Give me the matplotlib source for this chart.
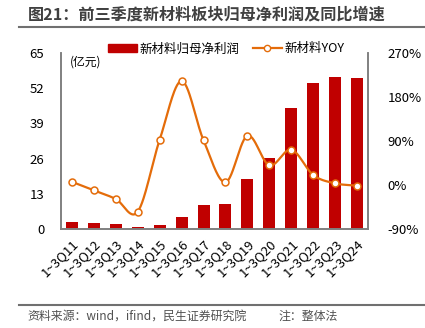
import numpy as np
import matplotlib
matplotlib.use("Agg")
import matplotlib.pyplot as plt
from matplotlib.lines import Line2D
from matplotlib.patches import Patch

plt.rcParams['font.family'] = ['Noto Sans CJK SC', 'DejaVu Sans']

categories = ["1~3Q11", "1~3Q12", "1~3Q13", "1~3Q14", "1~3Q15", "1~3Q16", "1~3Q17",
              "1~3Q18", "1~3Q19", "1~3Q20", "1~3Q21", "1~3Q22", "1~3Q23", "1~3Q24"]
profit = [2.6, 2.4, 1.7, 0.8, 1.4, 4.5, 8.7, 9.2, 18.6, 26.2, 44.8, 54.1, 56.3, 55.6]
yoy = [6.5, -11, -28.6, -54.5, 92.7, 212.7, 91.4, 5.5, 100.9, 40.2, 72.3, 20.5, 3.4, -1.4]
left_ticks = [0, 13, 26, 39, 52, 65]
right_ticks = [-90, 0, 90, 180, 270]

BAR = "#C00000"
LINE = "#E46C0A"
GRAY = "#808080"


def smooth(x, y, n=30):
    """Catmull-Rom curve through the given points."""
    x = np.asarray(x, float)
    y = np.asarray(y, float)
    px = np.concatenate([[2 * x[0] - x[1]], x, [2 * x[-1] - x[-2]]])
    py = np.concatenate([[2 * y[0] - y[1]], y, [2 * y[-1] - y[-2]]])
    xs, ys = [], []
    t = np.linspace(0, 1, n, endpoint=False)
    for i in range(1, len(px) - 2):
        for arr, out in ((px, xs), (py, ys)):
            p0, p1, p2, p3 = arr[i - 1:i + 3]
            out.append(0.5 * ((2 * p1) + (-p0 + p2) * t
                              + (2 * p0 - 5 * p1 + 4 * p2 - p3) * t ** 2
                              + (-p0 + 3 * p1 - 3 * p2 + p3) * t ** 3))
    xs.append([x[-1]])
    ys.append([y[-1]])
    return np.concatenate(xs), np.concatenate(ys)


fig = plt.figure(figsize=(4.25, 3.28), dpi=100)
ax = fig.add_axes([0.1435, 0.3018, 0.7224, 0.5366])
x = np.arange(len(categories))
ax.bar(x, profit, width=0.55, color=BAR, zorder=2)
ax.set_xlim(-0.5, len(categories) - 0.5)
ax.set_ylim(0, 65)
ax.set_yticks(left_ticks)
ax.set_xticks(x)
ax.set_xticklabels(categories, rotation=45, ha="right", va="top",
                   rotation_mode="anchor", fontsize=9, color="#000000")
ax.tick_params(axis="both", length=0, labelsize=9.5, pad=6)
ax.tick_params(axis="y", pad=12)
ax.spines["top"].set_visible(False)
for s in ("left", "right", "bottom"):
    ax.spines[s].set_color(GRAY)
    ax.spines[s].set_linewidth(1.2)

ax2 = ax.twinx()
ax2.set_ylim(-90, 270)
ax2.set_yticks(right_ticks)
ax2.set_yticklabels([f"{v}%" for v in right_ticks])
ax2.tick_params(axis="y", length=0, labelsize=9.5, pad=14)
ax2.spines["top"].set_visible(False)
for s in ("left", "right", "bottom"):
    ax2.spines[s].set_color(GRAY)
    ax2.spines[s].set_linewidth(1.2)
sx, sy = smooth(x, yoy)
ax2.plot(sx, sy, color=LINE, lw=1.6, zorder=3)
ax2.plot(x, yoy, ls="none", marker="o", ms=5, mfc="white", mec=LINE, mew=1.1, zorder=4)

ax.text(0.03, 0.985, "(亿元)", transform=ax.transAxes, fontsize=8.5, va="top", ha="left")

handles = [Patch(color=BAR),
           Line2D([0], [0], color=LINE, lw=1.6, marker="o", ms=4.5, mfc="white", mec=LINE)]
fig.legend(handles, ["新材料归母净利润", "新材料YOY"], loc="center",
           bbox_to_anchor=(0.532, 0.851), ncol=2, frameon=False, fontsize=9,
           handlelength=2.3, handleheight=0.6, columnspacing=1.1, handletextpad=0.2)

fig.text(0.065, 0.955, "图21：前三季度新材料板块归母净利润及同比增速", fontsize=11.6,
         fontweight="bold", color="#404040", va="center", ha="left")
fig.add_artist(Line2D([0.045, 1.0], [0.918, 0.918], transform=fig.transFigure,
                      color="#707070", lw=1.5))
fig.add_artist(Line2D([0.045, 1.0], [0.07, 0.07], transform=fig.transFigure,
                      color="#707070", lw=1.5))
fig.text(0.065, 0.035, "资料来源：wind，ifind，民生证券研究院", fontsize=8.6,
         color="#505050", va="center", ha="left")
fig.text(0.655, 0.035, "注：整体法", fontsize=8.6, color="#505050", va="center", ha="left")

fig.savefig("out.png", dpi=100)
